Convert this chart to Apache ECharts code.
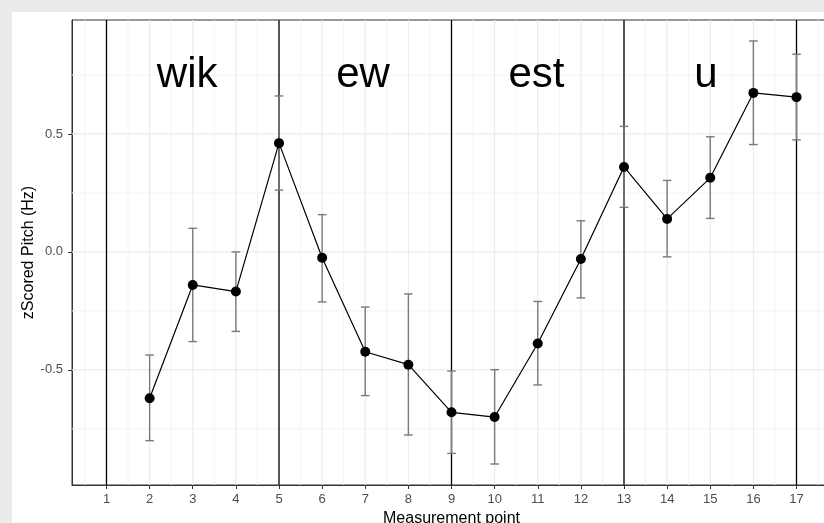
<!DOCTYPE html>
<html>
<head>
<meta charset="utf-8">
<script src="https://cdn.jsdelivr.net/npm/echarts@6/dist/echarts.min.js"></script>
<style>
  html, body { margin: 0; padding: 0; overflow: hidden; background: #ebebeb; width: 824px; height: 523px; }
  #main { position: absolute; left: 12px; top: 12px; width: 830px; height: 511px; background: #fff; }
</style>
</head>
<body>
<div id="main"></div>
<script>
// measurement points and the z-scored pitch (mean, upper, lower)
var points = [2, 3, 4, 5, 6, 7, 8, 9, 10, 11, 12, 13, 14, 15, 16, 17];
var means  = [-0.62, -0.14, -0.168, 0.461, -0.025, -0.423, -0.478, -0.680, -0.700, -0.388, -0.030, 0.360, 0.140, 0.314, 0.674, 0.656];
var upper  = [-0.437, 0.10, 0.0, 0.661, 0.158, -0.234, -0.178, -0.505, -0.499, -0.210, 0.132, 0.532, 0.303, 0.488, 0.894, 0.838];
var lower  = [-0.80, -0.38, -0.337, 0.262, -0.212, -0.609, -0.776, -0.854, -0.899, -0.564, -0.195, 0.189, -0.021, 0.142, 0.455, 0.475];

// syllable boundaries and labels
var boundaries = [1, 5, 9, 13, 17];
var syllables = ['wik', 'ew', 'est', 'u'];
var syllableX = [2.87, 6.95, 10.97, 14.9];
var syllableY = 0.75;

// ticks
var xTicks = [1, 2, 3, 4, 5, 6, 7, 8, 9, 10, 11, 12, 13, 14, 15, 16, 17];
var yTicks = [-0.5, 0, 0.5];
var yMinor = [-0.75, -0.25, 0.25, 0.75];
var xMinor = [0.5, 1.5, 2.5, 3.5, 4.5, 5.5, 6.5, 7.5, 8.5, 9.5, 10.5, 11.5, 12.5, 13.5, 14.5, 15.5, 16.5, 17.5];

var font = '"Liberation Sans", Arial, Helvetica, sans-serif';

var myChart = echarts.init(document.getElementById('main'));

// one row per straight rule across the panel: [axis (0 = vertical, 1 = horizontal), value, kind]
function rules(dir, values, kind) {
    return values.map(function (v) { return [dir, v, kind]; });
}
var ruleStyles = {
    minor: { stroke: '#f3f3f3', lineWidth: 1 },
    major: { stroke: '#ebebeb', lineWidth: 1.2 },
    bound: { stroke: '#000', lineWidth: 1.3 }
};
var ruleKinds = ['minor', 'major', 'bound'];

function renderRule(params, api) {
    var cs = params.coordSys;
    var dir = api.value(0), v = api.value(1);
    var style = ruleStyles[ruleKinds[api.value(2)]];
    var shape;
    if (dir === 0) {
        var px = api.coord([v, 0])[0];
        shape = { x1: px, y1: cs.y, x2: px, y2: cs.y + cs.height };
    } else {
        var py = api.coord([1, v])[1];
        shape = { x1: cs.x, y1: py, x2: cs.x + cs.width, y2: py };
    }
    return { type: 'line', shape: shape, style: style };
}

var option = {
    animation: false,
    grid: {
        left: 60,
        top: 8,
        width: 759,
        height: 465,
        outerBoundsMode: 'none',
        containLabel: false,
        show: true,
        backgroundColor: '#fff',
        borderColor: '#333',
        borderWidth: 1
    },
    xAxis: {
        type: 'value',
        min: 0.2,
        max: 17.8,
        name: 'Measurement point',
        nameLocation: 'middle',
        nameGap: 26,
        nameMoveOverlap: false,
        nameTextStyle: { color: '#000', fontSize: 16, fontFamily: font },
        axisLine: { show: true, onZero: false, lineStyle: { color: '#333', width: 1 } },
        axisTick: { show: true, length: 4, customValues: xTicks, lineStyle: { color: '#333' } },
        axisLabel: { customValues: xTicks, margin: 8, color: '#4d4d4d', fontSize: 13, fontFamily: font },
        splitLine: { show: false }
    },
    yAxis: {
        type: 'value',
        min: -0.988,
        max: 0.983,
        name: 'zScored Pitch (Hz)',
        nameLocation: 'middle',
        nameGap: 35,
        nameMoveOverlap: false,
        nameTextStyle: { color: '#000', fontSize: 16, fontFamily: font },
        axisLine: { show: true, onZero: false, lineStyle: { color: '#333', width: 1 } },
        axisTick: { show: true, length: 4, customValues: yTicks, lineStyle: { color: '#333' } },
        axisLabel: {
            customValues: yTicks, margin: 9, color: '#4d4d4d', fontSize: 13, fontFamily: font,
            formatter: function (v) { return v.toFixed(1); }
        },
        splitLine: { show: false }
    },
    series: [{
        // panel grid and syllable boundaries
        type: 'custom',
        silent: true,
        z: 1,
        clip: true,
        data: rules(1, yMinor, 0).concat(rules(0, xMinor, 0))
            .concat(rules(1, yTicks, 1)).concat(rules(0, xTicks, 1))
            .concat(rules(0, boundaries, 2)),
        renderItem: renderRule
    }, {
        name: 'error',
        type: 'custom',
        z: 3,
        data: points.map(function (p, i) { return [p, lower[i], upper[i]]; }),
        renderItem: function (params, api) {
            var x = api.value(0);
            var lo = api.coord([x, api.value(1)]);
            var hi = api.coord([x, api.value(2)]);
            var half = api.size([0.1, 0])[0];
            var style = { stroke: '#7a7a7a', lineWidth: 1.4 };
            return {
                type: 'group',
                children: [
                    { type: 'line', shape: { x1: lo[0], y1: lo[1], x2: hi[0], y2: hi[1] }, style: style },
                    { type: 'line', shape: { x1: hi[0] - half, y1: hi[1], x2: hi[0] + half, y2: hi[1] }, style: style },
                    { type: 'line', shape: { x1: lo[0] - half, y1: lo[1], x2: lo[0] + half, y2: lo[1] }, style: style }
                ]
            };
        }
    }, {
        name: 'mean',
        type: 'line',
        z: 4,
        symbol: 'circle',
        symbolSize: 10,
        itemStyle: { color: '#000' },
        lineStyle: { color: '#000', width: 1.2 },
        data: points.map(function (p, i) { return [p, means[i]]; })
    }, {
        name: 'syllables',
        type: 'scatter',
        z: 5,
        symbolSize: 0,
        silent: true,
        itemStyle: { opacity: 1 },
        label: {
            show: true,
            position: 'inside',
            formatter: '{b}',
            color: '#000',
            opacity: 1,
            fontSize: 42,
            fontFamily: font
        },
        data: syllables.map(function (s, i) { return { name: s, value: [syllableX[i], syllableY] }; })
    }]
};

myChart.setOption(option);
</script>
</body>
</html>
